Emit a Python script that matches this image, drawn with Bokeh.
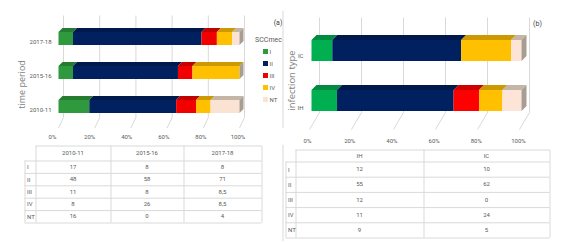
import math
from bokeh.plotting import figure
from bokeh.models import Range1d, LinearAxis, FixedTicker, Span
from bokeh.layouts import row, column
from bokeh.embed import file_html
from bokeh.resources import INLINE
from bokeh.core.properties import value

# ---------------- data ----------------
sccmec_types = ["I", "II", "III", "IV", "NT"]
periods = ["2010-11", "2015-16", "2017-18"]
period_I = [17, 8, 8]
period_II = [48, 58, 71]
period_III = [11, 8, 8.5]
period_IV = [8, 26, 8.5]
period_NT = [16, 0, 4]

infection_types = ["IH", "IC"]
infection_I = [12, 10]
infection_II = [55, 62]
infection_III = [12, 0]
infection_IV = [11, 24]
infection_NT = [9, 5]

pct_ticks = [0, 20, 40, 60, 80, 100]
pct_tick_labels = ["0%", "20%", "40%", "60%", "80%", "100%"]
axis_title_a = "time period"
axis_title_b = "infection type"
legend_title = "SCCmec"
panel_a = "(a)"
panel_b = "(b)"

# ---------------- style ----------------
colors_a = ["#2f9a3d", "#002060", "#f20000", "#ffc000", "#fbe3d4"]
colors_b = ["#00b050", "#002060", "#ff0000", "#ffc000", "#fce4d6"]
NT_TOP = "#c4b5a6"
SIDE = "#a89d92"
FONT = "Roboto"
TITLE_FONT = "Open Sans"
TXT = "#595959"
TITLE_TXT = "#7f7f7f"
GRID = "#d9d9d9"
FS = "6px"


def darker(c, f=0.8):
    r, g, b = int(c[1:3], 16), int(c[3:5], 16), int(c[5:7], 16)
    return "#%02x%02x%02x" % (int(r * f), int(g * f), int(b * f))


def fmt(v):
    return str(int(v)) if float(v).is_integer() else str(v).replace(".", ",")


def blank(w, h):
    p = figure(width=w, height=h, output_backend="svg", toolbar_location=None,
               x_range=Range1d(0, w), y_range=Range1d(h, 0),
               x_axis_location=None, y_axis_location=None, min_border=0)
    p.outline_line_color = None
    p.xgrid.visible = False
    p.ygrid.visible = False
    p.background_fill_color = "white"
    p.border_fill_color = "white"
    return p


def chart(cats, series, colors, g, axis_title, panel_label, panel_xy):
    fl, fr, ft, fb = g["frame"]
    ox, oy = g["origin"]
    fw, fh = fr - fl, fb - ft
    kx, ky = g["kx"], g["ky"]
    x0 = -(g["zero_px"] - fl) / kx
    y0 = -(fb - g["cat0_px"]) / ky

    def X(px):
        return x0 + (px - fl) / kx

    def Y(py):
        return y0 + (fb - py) / ky

    p = figure(width=g["w"], height=g["h"], output_backend="svg", toolbar_location=None,
               x_range=Range1d(x0, x0 + fw / kx), y_range=Range1d(y0, y0 + fh / ky),
               x_axis_location=None, y_axis_location=None,
               min_border_left=fl - ox, min_border_right=ox + g["w"] - fr,
               min_border_top=ft - oy, min_border_bottom=oy + g["h"] - fb)
    p.outline_line_color = None
    p.background_fill_color = "white"
    p.border_fill_color = "white"
    p.xgrid.visible = False
    p.ygrid.visible = False

    tx0 = -(g["tick_zero_px"] - fl) / g["tick_kx"]
    ty0 = -(fb - g["lab0_px"]) / g["lab_ky"]
    p.extra_x_ranges = {"ticks": Range1d(tx0, tx0 + fw / g["tick_kx"])}
    p.extra_y_ranges = {"ticks": Range1d(ty0, ty0 + fh / g["lab_ky"])}
    xax = LinearAxis(x_range_name="ticks", ticker=FixedTicker(ticks=pct_ticks),
                     major_label_overrides={t: l for t, l in zip(pct_ticks, pct_tick_labels)})
    yax = LinearAxis(y_range_name="ticks", ticker=FixedTicker(ticks=list(range(len(cats)))),
                     major_label_overrides={i: c for i, c in enumerate(cats)})
    for ax in (xax, yax):
        ax.axis_line_color = None
        ax.major_tick_out = 0
        ax.major_tick_in = 0
        ax.minor_tick_out = 0
        ax.minor_tick_in = 0
        ax.major_label_text_font = FONT
        ax.major_label_text_font_size = FS
        ax.major_label_text_color = TXT
    xax.major_label_standoff = g["xstand"]
    # the frame starts at the figure's left edge; category labels end at lab_right_px
    yax.major_label_standoff = int(fl - g["lab_right_px"])
    p.add_layout(xax, "below")
    p.add_layout(yax, "left")

    # rotated axis title
    p.text(x=[X(g["title_xy"][0])], y=[Y(g["title_xy"][1])], text=[axis_title],
           angle=math.pi / 2, text_align="center", text_baseline="middle",
           text_font=value(TITLE_FONT), text_font_size=g["title_size"], text_color=TITLE_TXT)

    # 3-D style gridlines (back wall + floor)
    n = len(pct_ticks)
    gx_top = [t + g["grid_dx_top"] / kx for t in pct_ticks]
    gx_bot = [t + g["grid_dx_bot"] / kx for t in pct_ticks]
    p.segment(x0=gx_top, y0=[Y(g["grid_top"])] * n, x1=gx_top, y1=[Y(g["grid_floor"])] * n,
              line_color=GRID, line_width=1)
    p.segment(x0=gx_top, y0=[Y(g["grid_floor"])] * n, x1=gx_bot, y1=[Y(g["grid_bottom"])] * n,
              line_color=GRID, line_width=1)

    # stacked 100% bars with 3-D facets
    hh = g["half_h"] / ky
    dx = g["dx"] / kx
    dy = g["dy"] / ky
    top_cols = [darker(c) for c in colors[:-1]] + [NT_TOP]
    fl_, fr_, fb_, ft_, fc_ = [], [], [], [], []
    txs, tys, tcs, sxs, sys_ = [], [], [], [], []
    for i in range(len(cats)):
        total = sum(s[i] for s in series)
        left = 0.0
        for s, c, tc in zip(series, colors, top_cols):
            w = s[i] / total * 100.0
            if w <= 0:
                continue
            right = left + w
            fl_.append(left); fr_.append(right)
            fb_.append(i - hh); ft_.append(i + hh); fc_.append(c)
            txs.append([left, right, right + dx, left + dx])
            tys.append([i + hh, i + hh, i + hh + dy, i + hh + dy])
            tcs.append(tc)
            left = right
        sxs.append([left, left + dx, left + dx, left])
        sys_.append([i - hh, i - hh + dy, i + hh + dy, i + hh])
    p.quad(left=fl_, right=fr_, bottom=fb_, top=ft_, fill_color=fc_, line_color=None)
    p.patches(txs, tys, fill_color=tcs, line_color=None)
    p.patches(sxs, sys_, fill_color=SIDE, line_color=None)

    p.text(x=[X(panel_xy[0])], y=[Y(panel_xy[1])], text=[panel_label],
           text_align="center", text_baseline="middle", text_font=value(FONT),
           text_font_size="7px", text_color="#404040")
    return p, X, Y


# ---------------- chart (a) ----------------
geo_a = dict(w=284, h=144, origin=(0, 0), frame=(0, 284, 10, 128),
             zero_px=58, kx=1.81, cat0_px=106, ky=34,
             tick_zero_px=52, tick_kx=1.855, lab0_px=109, lab_ky=34,
             xstand=4, lab_right_px=51, title_xy=(21, 84), title_size="9px",
             grid_top=15, grid_floor=117, grid_bottom=127.5, grid_dx_top=5, grid_dx_bot=0,
             half_h=6.5, dx=4, dy=4)
series_a = [period_I, period_II, period_III, period_IV, period_NT]
pa, XA, YA = chart(periods, series_a, colors_a, geo_a, axis_title_a, panel_a, (277.5, 22.5))

# legend
leg_y = [YA(51 + 12 * i) for i in range(len(sccmec_types))]
pa.scatter(x=[XA(265)] * len(sccmec_types), y=leg_y, marker="square", size=5,
           fill_color=colors_a, line_color=None)
pa.text(x=[XA(269)] * len(sccmec_types), y=leg_y, text=sccmec_types,
        text_align="left", text_baseline="middle", text_font=value(FONT),
        text_font_size=FS, text_color=TXT)
pa.text(x=[XA(268)], y=[YA(39)], text=[legend_title], text_align="center",
        text_baseline="middle", text_font=value(FONT), text_font_size="7px", text_color=TXT)
pa.add_layout(Span(location=XA(282.5), dimension="height", line_color=GRID, line_width=1))

# ---------------- chart (b) ----------------
geo_b = dict(w=282, h=148, origin=(284, 0), frame=(284, 566, 10, 130),
             zero_px=311, kx=2.1, cat0_px=100, ky=50,
             tick_zero_px=307, tick_kx=2.11, lab0_px=107, lab_ky=52,
             xstand=6, lab_right_px=303, title_xy=(290.5, 80), title_size="9.5px",
             grid_top=17, grid_floor=112, grid_bottom=129, grid_dx_top=8, grid_dx_bot=-2,
             half_h=10.5, dx=5, dy=5)
series_b = [infection_I, infection_II, infection_III, infection_IV, infection_NT]
pb, XB, YB = chart(infection_types, series_b, colors_b, geo_b, axis_title_b, panel_b, (537, 23))


# ---------------- tables ----------------
def table(w, h, col_edges, lab_left, row_edges, header, row_labels, columns, sep_x=None):
    p = blank(w, h)
    right = col_edges[-1]
    hx0 = [col_edges[0]] + [lab_left] * (len(row_edges) - 1)
    hy = [r + 0.5 for r in row_edges]
    p.segment(x0=hx0, y0=hy, x1=[right] * len(hy), y1=hy, line_color=GRID, line_width=1)
    vx = [lab_left + 0.5] + [c + 0.5 for c in col_edges]
    vy0 = [row_edges[1]] + [row_edges[0]] * len(col_edges)
    p.segment(x0=vx, y0=vy0, x1=vx, y1=[row_edges[-1]] * len(vx), line_color=GRID, line_width=1)
    if sep_x is not None:
        p.segment(x0=[sep_x], y0=[0], x1=[sep_x], y1=[h], line_color=GRID, line_width=1)
    cx = [(a + b) / 2 for a, b in zip(col_edges[:-1], col_edges[1:])]
    ry = [(a + b) / 2 for a, b in zip(row_edges[:-1], row_edges[1:])]
    tf = dict(text_font=value(FONT), text_font_size=FS, text_color=TXT, text_baseline="middle")
    p.text(x=cx, y=[ry[0]] * len(cx), text=header, text_align="center", **tf)
    p.text(x=[lab_left + 2.5] * len(row_labels), y=ry[1:], text=row_labels, text_align="left", **tf)
    xs, ys, ts = [], [], []
    for j, col in enumerate(columns):
        for i, v in enumerate(col):
            xs.append(cx[j]); ys.append(ry[i + 1]); ts.append(fmt(v))
    p.text(x=xs, y=ys, text=ts, text_align="center", **tf)
    return p


cols_a = [[s[j] for s in series_a] for j in range(len(periods))]
ta = table(284, 97, [35, 110, 183, 261], 24, [1, 16, 28.4, 40.8, 53.2, 65.6, 78],
           periods, sccmec_types, cols_a, sep_x=282.5)
cols_b = [[s[j] for s in series_b] for j in range(len(infection_types))]
tb = table(282, 93, [11, 139, 265], 1, [1, 13, 28.2, 43.4, 58.6, 73.8, 89],
           infection_types, sccmec_types, cols_b)

layout = row(column(pa, ta), column(pb, tb))
open("out.html", "w").write(file_html(layout, INLINE))
